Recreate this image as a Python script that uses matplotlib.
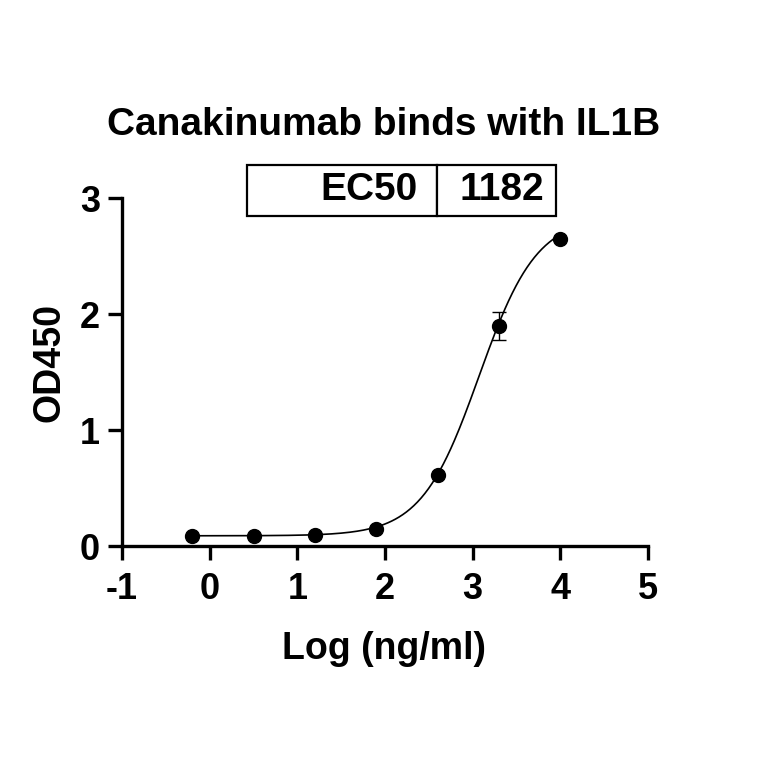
import numpy as np
import matplotlib
matplotlib.use("Agg")
import matplotlib.pyplot as plt

# Data
log_conc = [-0.2, 0.5, 1.2, 1.9, 2.6, 3.3, 4.0]
od450 = [0.089, 0.089, 0.094, 0.15, 0.614, 1.90, 2.65]
od_err = [0.0, 0.0, 0.0, 0.0, 0.0, 0.12, 0.0]
# 4PL fit parameters
fit_bottom = 0.088
fit_top = 2.84
fit_ec50 = 1182
fit_hill = 1.32
title = "Canakinumab binds with IL1B"
xlabel = "Log (ng/ml)"
ylabel = "OD450"
xticks = [-1, 0, 1, 2, 3, 4, 5]
yticks = [0, 1, 2, 3]

plt.rcParams['font.family'] = ['Liberation Sans', 'DejaVu Sans']
plt.rcParams['font.weight'] = 'bold'

fig = plt.figure(figsize=(7.64, 7.64), dpi=100)
ax = fig.add_axes([122/764, 1-546/764, (648-122)/764, (546-198)/764])

xs = np.linspace(min(log_conc), max(log_conc), 300)
ys = fit_bottom + (fit_top - fit_bottom) / (1 + 10 ** ((np.log10(fit_ec50) - xs) * fit_hill))
ax.plot(xs, ys, color='black', lw=1.2, zorder=2)
ax.errorbar(log_conc, od450, yerr=od_err, fmt='o', color='black', ms=10,
            elinewidth=1.0, capsize=5, capthick=1.0, zorder=3)

ax.set_xlim(-1, 5)
ax.set_ylim(0, 3)
ax.set_xticks(xticks)
ax.set_yticks(yticks)
ax.set_xticklabels([str(t) for t in xticks])
ax.set_yticklabels([str(t) for t in yticks])
for s in ['top', 'right']:
    ax.spines[s].set_visible(False)
for s in ['left', 'bottom']:
    ax.spines[s].set_linewidth(2.4)
ax.tick_params(axis='both', width=2.4, length=10, labelsize=26)
ax.tick_params(axis='x', pad=9)
ax.tick_params(axis='y', pad=6)
for lab in ax.get_xticklabels() + ax.get_yticklabels():
    lab.set_fontweight('bold')

ax.set_xlabel(xlabel, fontsize=27, fontweight='bold')
ax.set_ylabel(ylabel, fontsize=27, fontweight='bold')
ax.xaxis.set_label_coords((384-122)/526, (546-631)/348)
ax.yaxis.set_label_coords((68-122)/526, (546-362)/348)
fig.text(384/764, 1-125/764, title, ha='center', va='center', fontsize=28, fontweight='bold')

tbl = ax.table(cellText=[["EC50", str(fit_ec50)]], cellLoc='right',
               colWidths=[0.615, 0.385],
               bbox=[(247-122)/526, (546-216)/348, (556-247)/526, (216-165)/348])
tbl.auto_set_font_size(False)
tbl.set_fontsize(28)
for key, cell in tbl.get_celld().items():
    cell.set_linewidth(1.6)
    cell.get_text().set_fontweight('bold')
    cell.set_clip_on(False)
tbl.set_clip_on(False)

fig.savefig("out.png", dpi=100)
